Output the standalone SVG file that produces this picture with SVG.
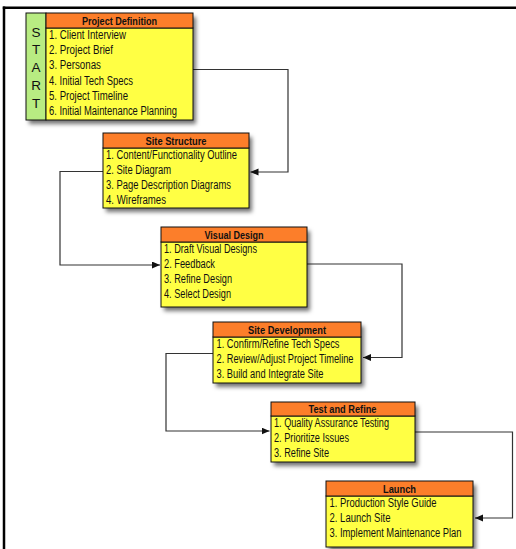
<svg xmlns="http://www.w3.org/2000/svg" width="516" height="549" viewBox="0 0 516 549">
<style>
.hd{fill:#FC7E2A;stroke:#111;stroke-width:1}
.bd{fill:#FFFF44;stroke:#111;stroke-width:1}
.st{fill:#B8EC82;stroke:#111;stroke-width:1}
.ht{font-family:"Liberation Sans",Arial,sans-serif;font-size:11.5px;font-weight:bold;fill:#111;text-anchor:middle}
.lt{font-family:"Liberation Sans",Arial,sans-serif;font-size:12px;fill:#111}
.sl{font-family:"Liberation Sans",Arial,sans-serif;font-size:13.5px;fill:#111;text-anchor:middle}
.cn{fill:none;stroke:#333;stroke-width:1.2;marker-end:url(#ah)}
</style>
<defs>
<filter id="sh" x="-10%" y="-10%" width="130%" height="140%">
<feDropShadow dx="3" dy="4" stdDeviation="2" flood-color="#000" flood-opacity="0.55"/>
</filter>
<marker id="ah" markerWidth="9" markerHeight="8" refX="8" refY="3.5" orient="auto" markerUnits="userSpaceOnUse">
<path d="M0,0 L8,3.5 L0,7 z" fill="#111"/>
</marker>
</defs>
<rect x="0" y="0" width="516" height="549" fill="#fff"/>
<g id="frame" stroke="#000" stroke-width="2.5" fill="none">
<line x1="2.8" y1="7.8" x2="516" y2="7.8"/>
<line x1="4" y1="6.5" x2="4" y2="549"/>
</g>
<g id="connectors">
<path class="cn" d="M193,69.5 H288 V172 H250.5"/>
<path class="cn" d="M103,171.5 H60 V265 H160"/>
<path class="cn" d="M307,264 H402 V357.5 H363"/>
<path class="cn" d="M213,353.5 H166 V431 H269.5"/>
<path class="cn" d="M415,432 H512.5 V518 H475"/>
</g>
<g id="project-definition">
<rect x="26" y="13" width="167" height="107" fill="#FFFF44" filter="url(#sh)"/>
<rect class="st" x="26" y="13" width="20" height="107"/>
<rect class="bd" x="46" y="28" width="147" height="92"/>
<rect class="hd" x="46" y="13" width="147" height="15"/>
<text class="sl" x="36" y="37">S</text>
<text class="sl" x="36" y="54">T</text>
<text class="sl" x="36" y="72">A</text>
<text class="sl" x="36" y="90">R</text>
<text class="sl" x="36" y="108">T</text>
<text class="ht" x="119.5" y="25" textLength="75" lengthAdjust="spacingAndGlyphs">Project Definition</text>
<text class="lt" x="49" y="39" textLength="77" lengthAdjust="spacingAndGlyphs">1. Client Interview</text>
<text class="lt" x="49" y="54.2" textLength="64" lengthAdjust="spacingAndGlyphs">2. Project Brief</text>
<text class="lt" x="49" y="69.4" textLength="52" lengthAdjust="spacingAndGlyphs">3. Personas</text>
<text class="lt" x="49" y="84.6" textLength="84" lengthAdjust="spacingAndGlyphs">4. Initial Tech Specs</text>
<text class="lt" x="49" y="99.8" textLength="79" lengthAdjust="spacingAndGlyphs">5. Project Timeline</text>
<text class="lt" x="49" y="115" textLength="128" lengthAdjust="spacingAndGlyphs">6. Initial Maintenance Planning</text>
</g>
<g id="site-structure">
<rect x="103" y="133" width="146" height="75" fill="#FFFF44" filter="url(#sh)"/>
<rect class="bd" x="103" y="148" width="146" height="60"/>
<rect class="hd" x="103" y="133" width="146" height="15"/>
<text class="ht" x="176" y="144.5" textLength="61" lengthAdjust="spacingAndGlyphs">Site Structure</text>
<text class="lt" x="106" y="159" textLength="131" lengthAdjust="spacingAndGlyphs">1. Content/Functionality Outline</text>
<text class="lt" x="106" y="174" textLength="65" lengthAdjust="spacingAndGlyphs">2. Site Diagram</text>
<text class="lt" x="106" y="189" textLength="125" lengthAdjust="spacingAndGlyphs">3. Page Description Diagrams</text>
<text class="lt" x="106" y="204" textLength="60" lengthAdjust="spacingAndGlyphs">4. Wireframes</text>
</g>
<g id="visual-design">
<rect x="161" y="227" width="146" height="80" fill="#FFFF44" filter="url(#sh)"/>
<rect class="bd" x="161" y="242" width="146" height="65"/>
<rect class="hd" x="161" y="227" width="146" height="15"/>
<text class="ht" x="234" y="238.5" textLength="59" lengthAdjust="spacingAndGlyphs">Visual Design</text>
<text class="lt" x="164" y="253" textLength="93" lengthAdjust="spacingAndGlyphs">1. Draft Visual Designs</text>
<text class="lt" x="164" y="268" textLength="51" lengthAdjust="spacingAndGlyphs">2. Feedback</text>
<text class="lt" x="164" y="283" textLength="68" lengthAdjust="spacingAndGlyphs">3. Refine Design</text>
<text class="lt" x="164" y="298" textLength="67" lengthAdjust="spacingAndGlyphs">4. Select Design</text>
</g>
<g id="site-development">
<rect x="213" y="322" width="148" height="61" fill="#FFFF44" filter="url(#sh)"/>
<rect class="bd" x="213" y="337" width="148" height="46"/>
<rect class="hd" x="213" y="322" width="148" height="15"/>
<text class="ht" x="287" y="333.5" textLength="78" lengthAdjust="spacingAndGlyphs">Site Development</text>
<text class="lt" x="216.5" y="347.5" textLength="123" lengthAdjust="spacingAndGlyphs">1. Confirm/Refine Tech Specs</text>
<text class="lt" x="216.5" y="362.5" textLength="137" lengthAdjust="spacingAndGlyphs">2. Review/Adjust Project Timeline</text>
<text class="lt" x="216.5" y="377.5" textLength="107" lengthAdjust="spacingAndGlyphs">3. Build and Integrate Site</text>
</g>
<g id="test-and-refine">
<rect x="271" y="402" width="144" height="60" fill="#FFFF44" filter="url(#sh)"/>
<rect class="bd" x="271" y="416" width="144" height="46"/>
<rect class="hd" x="271" y="402" width="144" height="14"/>
<text class="ht" x="342.5" y="413" textLength="68" lengthAdjust="spacingAndGlyphs">Test and Refine</text>
<text class="lt" x="274" y="427" textLength="115" lengthAdjust="spacingAndGlyphs">1. Quality Assurance Testing</text>
<text class="lt" x="274" y="442" textLength="75" lengthAdjust="spacingAndGlyphs">2. Prioritize Issues</text>
<text class="lt" x="274" y="457" textLength="55" lengthAdjust="spacingAndGlyphs">3. Refine Site</text>
</g>
<g id="launch">
<rect x="326" y="481" width="147" height="66" fill="#FFFF44" filter="url(#sh)"/>
<rect class="bd" x="326" y="496" width="147" height="51"/>
<rect class="hd" x="326" y="481" width="147" height="15"/>
<text class="ht" x="399.5" y="492.5" textLength="33" lengthAdjust="spacingAndGlyphs">Launch</text>
<text class="lt" x="329.5" y="507" textLength="107" lengthAdjust="spacingAndGlyphs">1. Production Style Guide</text>
<text class="lt" x="329.5" y="522" textLength="61" lengthAdjust="spacingAndGlyphs">2. Launch Site</text>
<text class="lt" x="329.5" y="537" textLength="132" lengthAdjust="spacingAndGlyphs">3. Implement Maintenance Plan</text>
</g>
</svg>
